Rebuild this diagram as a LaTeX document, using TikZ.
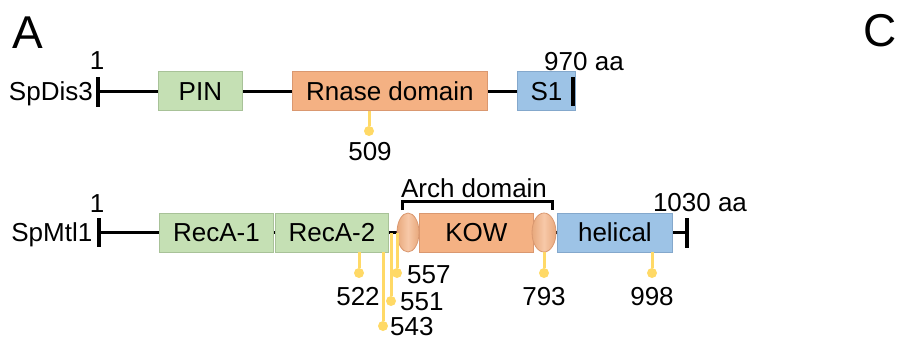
\documentclass[tikz,border=0pt]{standalone}
\usepackage{fontspec}
\setmainfont{Liberation Sans}
\usetikzlibrary{shapes.geometric, positioning, calc}
\definecolor{cGreen}{RGB}{197,224,180}
\definecolor{cGreenEdge}{RGB}{168,194,152}
\definecolor{cOrange}{RGB}{244,177,131}
\definecolor{cOrangeEdge}{RGB}{218,152,112}
\definecolor{cBlue}{RGB}{157,195,230}
\definecolor{cBlueEdge}{RGB}{132,168,204}
\definecolor{cSite}{RGB}{255,217,102}
\tikzset{
	lbl/.style    ={inner sep=0pt, text height=18.6pt, text depth=0pt, font=\fontsize{26}{30}\selectfont},
	panel/.style  ={inner sep=0pt, text height=33pt, text depth=0pt, font=\fontsize{46}{50}\selectfont},
	dom/.style    ={rectangle, lbl, line width=0.8pt, minimum height=39pt, anchor=west},
	arch/.style   ={ellipse, line width=0.8pt, draw=cOrangeEdge, minimum height=39pt, inner sep=0pt,
	                left color=cOrange!95!black, right color=cOrange!95!black, middle color=cOrange!70!white},
	bb/.style     ={line width=3pt, black},
	endbar/.style ={line width=4pt, black},
	brk/.style    ={line width=3pt, black},
	stem/.style   ={line width=3pt, cSite},
	sitedot/.style={circle, fill=cSite, minimum size=10pt, inner sep=0pt},
}
\begin{document}
\begin{tikzpicture}[x=1pt, y=-1pt]
	\useasboundingbox (0,0) rectangle (918,340);
	\node[panel] (pA) at (28,31.5) {A};
	\node[panel] (pC) at (880,30) {C};
	% SpDis3
	\coordinate (dis3N) at (98,91);
	\coordinate (dis3C) at (573,91);
	\draw[bb] (dis3N) -- (dis3C);
	\node[lbl, anchor=east] (dis3) at (93,91) {SpDis3};
	\node[lbl] (dis3one) at (97,60) {1};
	\node[lbl] (dis3len) at (584,61) {970 aa};
	\node[dom, fill=cGreen, draw=cGreenEdge, minimum width=84pt] (pin) at (158,91) {PIN};
	\node[dom, fill=cOrange, draw=cOrangeEdge, minimum width=195pt] (rnase) at (292,91) {Rnase domain};
	\node[dom, fill=cBlue, draw=cBlueEdge, minimum width=58pt] (sone) at (517,91) {S1};
	\draw[endbar] ($(dis3N)+(0,-14)$) -- ($(dis3N)+(0,16)$);
	\draw[endbar] ($(dis3C)+(0,-14)$) -- ($(dis3C)+(0,15)$);
	\node[sitedot] (s509) at (369,131) {};
	\draw[stem] (rnase.south -| s509) -- (s509);
	\node[lbl] (l509) at (370,151) {509};
	% SpMtl1
	\coordinate (mtl1N) at (99,232.5);
	\coordinate (mtl1C) at (687,232.5);
	\draw[bb] (mtl1N) -- (mtl1C);
	\node[lbl, anchor=east] (mtl1) at (92.5,232.5) {SpMtl1};
	\node[lbl] (mtl1one) at (97,203.5) {1};
	\node[lbl] (mtl1len) at (700,202.5) {1030 aa};
	\node[dom, fill=cGreen, draw=cGreenEdge, minimum width=114pt] (reca1) at (159,232.5) {RecA-1};
	\node[dom, fill=cGreen, draw=cGreenEdge, minimum width=113pt] (reca2) at (275,232.5) {RecA-2};
	\node[dom, fill=cOrange, draw=cOrangeEdge, minimum width=114pt] (kow) at (419,232.5) {KOW};
	\node[arch, minimum width=22pt] (archl) at (408,232.5) {};
	\node[arch, minimum width=24pt] (archr) at (544,232.5) {};
	\node[dom, fill=cBlue, draw=cBlueEdge, minimum width=115pt] (hel) at (557,232.5) {helical};
	\draw[endbar] ($(mtl1N)+(0,-14.5)$) -- ($(mtl1N)+(0,14.5)$);
	\draw[endbar] ($(mtl1C)+(0,-14.5)$) -- ($(mtl1C)+(0,15.5)$);
	\coordinate (brkM) at (477,201);
	\draw[brk] (402,210) |- (brkM) -| (552,210);
	\node[lbl] (archlbl) at (474,188.5) {Arch domain};
	% sites
	\node[sitedot] (s522) at (359,273) {};
	\node[sitedot] (s543) at (383,326) {};
	\node[sitedot] (s551) at (391,301) {};
	\node[sitedot] (s557) at (397,273) {};
	\node[sitedot] (s793) at (544,273) {};
	\node[sitedot] (s998) at (652,273) {};
	\draw[stem] (reca2.south -| s522) -- (s522);
	\draw[stem] (reca2.south -| s543) -- (s543);
	\draw[stem] (mtl1N -| s551) -- (s551);
	\draw[stem] (mtl1N -| s557) -- (s557);
	\draw[stem] (archr.south -| s793) -- (s793);
	\draw[stem] (hel.south -| s998) -- (s998);
	\node[lbl] (l522) at (358,296) {522};
	\node[lbl, anchor=west] (l543) at (390,326) {543};
	\node[lbl, anchor=west] (l551) at (400,301) {551};
	\node[lbl, anchor=west] (l557) at (407,274) {557};
	\node[lbl] (l793) at (544,296) {793};
	\node[lbl] (l998) at (652,296) {998};
\end{tikzpicture}
\end{document}
